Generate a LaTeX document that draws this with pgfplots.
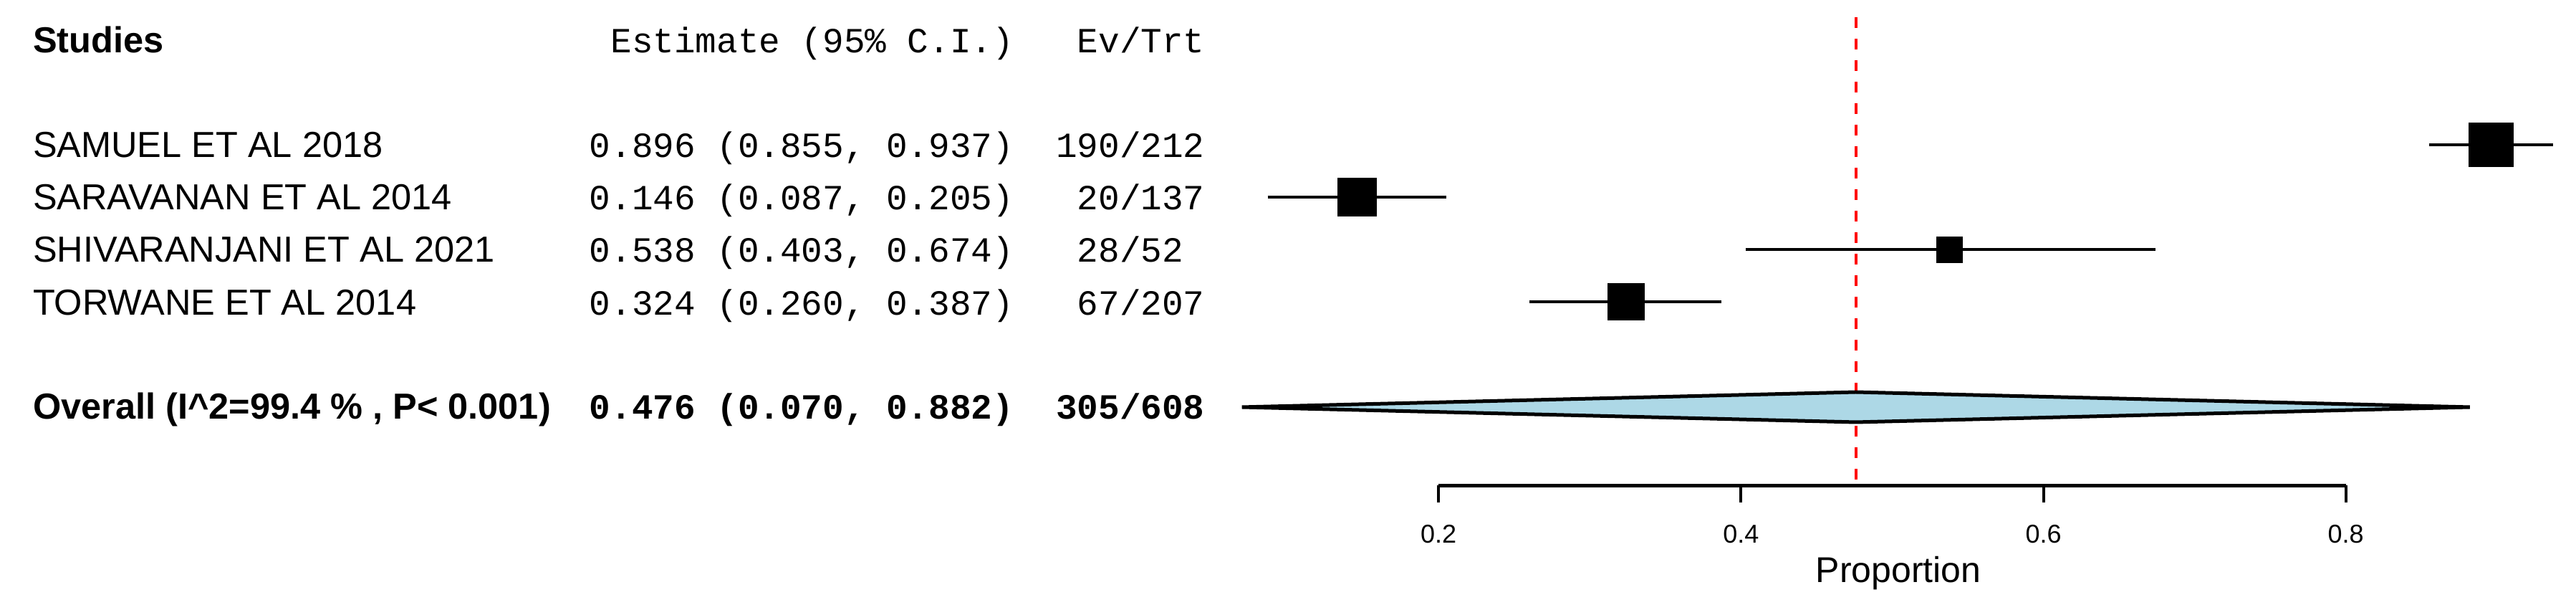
\documentclass[border=0pt]{standalone}
\usepackage{fontspec}
\setmainfont{Liberation Sans}
\setmonofont{Liberation Mono}
\usepackage{pgfplots}
\pgfplotsset{compat=1.18}
\definecolor{diamondfill}{HTML}{ADD8E6}
\newcommand{\lab}{\fontsize{10.1}{12}\selectfont}
\newcommand{\mono}{\ttfamily\fontsize{9.87}{12}\selectfont}
\begin{document}
\begin{tikzpicture}
\begin{axis}[at={(0pt,0pt)}, anchor=south west, scale only axis,
  width=719.2pt, height=170.2pt,
  xmin=-0.75126, xmax=0.95220, ymin=0, ymax=851, y dir=reverse,
  hide axis, clip=false]
\path (rel axis cs:0,0) rectangle (rel axis cs:1,1);
% reference line at pooled estimate
\addplot[red, line width=0.9pt, dash pattern=on 3pt off 3pt] coordinates {(0.476,24) (0.476,677)};
% confidence intervals
\addplot[black, line width=0.8pt] coordinates {(0.855,202) (0.937,202)};
\addplot[black, line width=0.8pt] coordinates {(0.087,275) (0.205,275)};
\addplot[black, line width=0.8pt] coordinates {(0.403,348) (0.674,348)};
\addplot[black, line width=0.8pt] coordinates {(0.260,421) (0.387,421)};
% point estimates
\addplot[only marks, mark=square*, mark size=6.15pt, mark options={black, line width=0.1pt}] coordinates {(0.896,202)};
\addplot[only marks, mark=square*, mark size=5.35pt, mark options={black, line width=0.1pt}] coordinates {(0.146,275)};
\addplot[only marks, mark=square*, mark size=3.6pt, mark options={black, line width=0.1pt}] coordinates {(0.538,348)};
\addplot[only marks, mark=square*, mark size=5.1pt, mark options={black, line width=0.1pt}] coordinates {(0.324,421)};
% pooled diamond
\addplot[fill=diamondfill, draw=black, line width=1pt, line join=miter] coordinates {(0.070,568) (0.476,547) (0.882,568) (0.476,589)} -- cycle;
% left text
\node[anchor=base west, inner sep=0pt, font=\lab\bfseries] at (axis cs:-0.72994,74) {Studies};
\node[anchor=base west, inner sep=0pt, font=\lab] at (axis cs:-0.72994,220) {SAMUEL ET AL 2018};
\node[anchor=base west, inner sep=0pt, font=\lab] at (axis cs:-0.72994,293) {SARAVANAN ET AL 2014};
\node[anchor=base west, inner sep=0pt, font=\lab] at (axis cs:-0.72994,366) {SHIVARANJANI ET AL 2021};
\node[anchor=base west, inner sep=0pt, font=\lab] at (axis cs:-0.72994,439.5) {TORWANE ET AL 2014};
\node[anchor=base west, inner sep=0pt, font=\lab\bfseries] at (axis cs:-0.72994,585) {Overall (I\^{}2=99.4 \% , P< 0.001)};
% estimate columns
\node[anchor=base west, inner sep=0pt, font=\mono] at (axis cs:-0.36196,74) {~Estimate (95\% C.I.)~~~Ev/Trt};
\node[anchor=base west, inner sep=0pt, font=\mono] at (axis cs:-0.36196,220) {0.896 (0.855, 0.937)~~190/212};
\node[anchor=base west, inner sep=0pt, font=\mono] at (axis cs:-0.36196,293) {0.146 (0.087, 0.205)~~~20/137};
\node[anchor=base west, inner sep=0pt, font=\mono] at (axis cs:-0.36196,366) {0.538 (0.403, 0.674)~~~28/52};
\node[anchor=base west, inner sep=0pt, font=\mono] at (axis cs:-0.36196,439.5) {0.324 (0.260, 0.387)~~~67/207};
\node[anchor=base west, inner sep=0pt, font=\mono\bfseries] at (axis cs:-0.36196,585) {0.476 (0.070, 0.882)~~305/608};
% x label
\node[anchor=base, inner sep=0pt, font=\fontsize{10}{12}\selectfont] at (axis cs:0.5041,813) {Proportion};
\end{axis}
\begin{axis}[at={(401.62pt,34.74pt)}, anchor=south west, scale only axis,
  width=253.32pt, height=20pt, xmin=0.2, xmax=0.8, ymin=0, ymax=1,
  axis x line*=bottom, axis y line=none,
  xtick={0.2,0.4,0.6,0.8}, xtick align=outside, major tick length=4.75pt,
  x axis line style={line width=0.95pt, -},
  xtick style={line width=0.8pt, black},
  /pgf/number format/assume math mode=true,
  /pgf/number format/fixed,
  xticklabel style={font=\fontsize{7.2}{8}\selectfont, anchor=base, inner sep=0pt, yshift=-11.2pt}]
\end{axis}
\end{tikzpicture}
\end{document}
